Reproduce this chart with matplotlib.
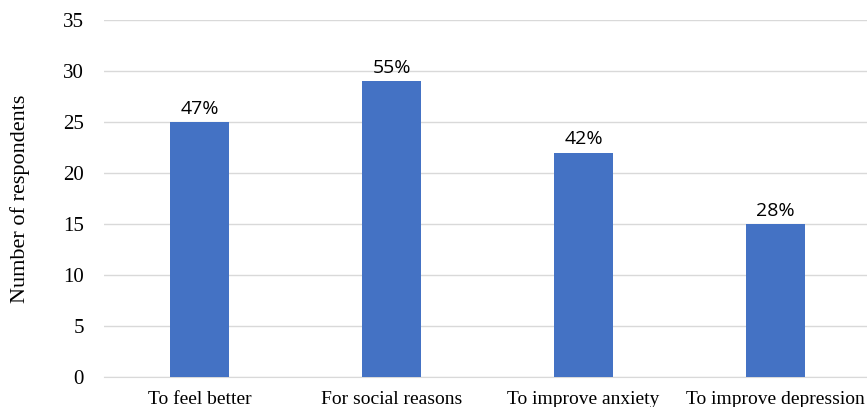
import matplotlib.pyplot as plt
import numpy as np

categories = ['To feel better', 'For social reasons', 'To improve anxiety', 'To improve depression']
counts = [25, 29, 22, 15]
pct_labels = ['47%', '55%', '42%', '28%']

plt.rcParams['font.family'] = 'Liberation Serif'

fig = plt.figure(figsize=(8.67, 4.07), dpi=100)
ax = fig.add_axes([103.5 / 867, 30 / 407, 768 / 867, 357 / 407])

x = np.arange(len(categories))
bars = ax.bar(x, counts, width=59 / 192, color='#4472C4', zorder=3)

# percentage labels above bars
for b, lab in zip(bars, pct_labels):
    ax.annotate(lab, (b.get_x() + b.get_width() / 2, b.get_height()),
                xytext=(0, 3), textcoords='offset points', ha='center', va='bottom',
                fontsize=14, family='Open Sans', color='black')

ax.set_xlim(-0.5, len(categories) - 0.5)
ax.set_ylim(0, 35)
ax.set_yticks(range(0, 36, 5))
ax.set_xticks(x)
ax.set_xticklabels(categories)
ax.tick_params(length=0)
ax.tick_params(axis='x', pad=10, labelsize=14)
ax.tick_params(axis='y', pad=14, labelsize=15)

ax.grid(axis='y', color='#d9d9d9', linewidth=1, zorder=0)
for s in ['top', 'right', 'left']:
    ax.spines[s].set_visible(False)
ax.spines['bottom'].set_color('#d9d9d9')
ax.set_ylabel('Number of respondents', fontsize=16)
ax.yaxis.set_label_coords(-73 / 768, 0.5)

fig.savefig('out.png', dpi=100)
